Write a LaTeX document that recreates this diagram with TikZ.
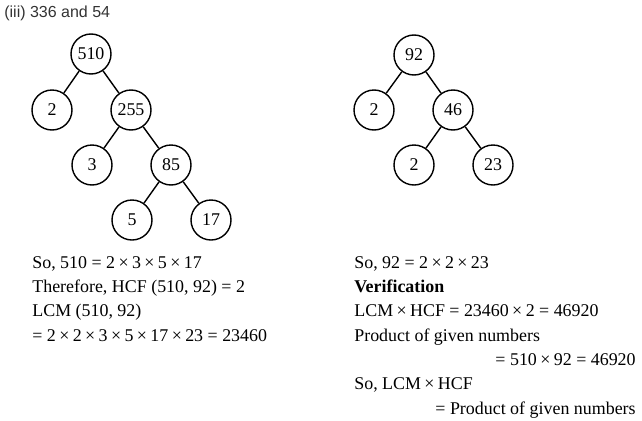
\documentclass[tikz,border=0pt]{standalone}
\usepackage{fontspec}
\setmainfont{Liberation Serif}
\newfontfamily\headfont{Liberation Sans}
\usepackage{tikz}
\usetikzlibrary{positioning}
\definecolor{headgray}{HTML}{333333}
\newcommand{\tms}{\hspace{0.19em}×\hspace{0.19em}}

\begin{document}
\begin{tikzpicture}[x=0.02cm, y=-0.02cm,
    num/.style={circle, draw=black, line width=0.8pt, minimum size=40*0.02cm, inner sep=0pt, font=\fontsize{10.2}{12}\selectfont},
    txt/.style={anchor=base west, inner sep=0pt, font=\fontsize{10.2}{12}\selectfont},
    txtr/.style={anchor=base east, inner sep=0pt, font=\fontsize{10.2}{12}\selectfont}]
    \useasboundingbox (0,0) rectangle (642,420);

    \node[anchor=base west, inner sep=0pt, text=headgray, font=\headfont\fontsize{9.1}{11}\selectfont] (title) at (4,17.5) {(iii) 336 and 54};

    \node[num] (a510) at (91,54) {510};
    \node[num] (a2) at (52,110) {2};
    \node[num] (a255) at (131,110) {255};
    \node[num] (a3) at (92,165) {3};
    \node[num] (a85) at (171,165) {85};
    \node[num] (a5) at (132,220) {5};
    \node[num] (a17) at (211,220) {17};
    \draw[line width=0.8pt] (a510) -- (a2);
    \draw[line width=0.8pt] (a510) -- (a255);
    \draw[line width=0.8pt] (a255) -- (a3);
    \draw[line width=0.8pt] (a255) -- (a85);
    \draw[line width=0.8pt] (a85) -- (a5);
    \draw[line width=0.8pt] (a85) -- (a17);

    \node[num] (b92) at (414,55) {92};
    \node[num] (b2) at (374,110) {2};
    \node[num] (b46) at (453,110) {46};
    \node[num] (b2b) at (414,165) {2};
    \node[num] (b23) at (493,165) {23};
    \draw[line width=0.8pt] (b92) -- (b2);
    \draw[line width=0.8pt] (b92) -- (b46);
    \draw[line width=0.8pt] (b46) -- (b2b);
    \draw[line width=0.8pt] (b46) -- (b23);

    \node[txt] (l1) at (32,268) {So, 510 = 2\tms 3\tms 5\tms 17};
    \node[txt] (l2) at (32,292) {Therefore, HCF (510, 92) = 2};
    \node[txt] (l3) at (32,316) {LCM (510, 92)};
    \node[txt] (l4) at (32,341) {= 2\tms 2\tms 3\tms 5\tms 17\tms 23 = 23460};

    \node[txt] (r1) at (354,268) {So, 92 = 2\tms 2\tms 23};
    \node[txt] (r2) at (354,292) {\textbf{Verification}};
    \node[txt] (r3) at (354,316) {LCM\tms HCF = 23460\tms 2 = 46920};
    \node[txt] (r4) at (354,341) {Product of given numbers};
    \node[txtr] (r5) at (636,365) {= 510\tms 92 = 46920};
    \node[txt] (r6) at (354,389) {So, LCM\tms HCF};
    \node[txtr] (r7) at (636,414) {= Product of given numbers};
\end{tikzpicture}
\end{document}
